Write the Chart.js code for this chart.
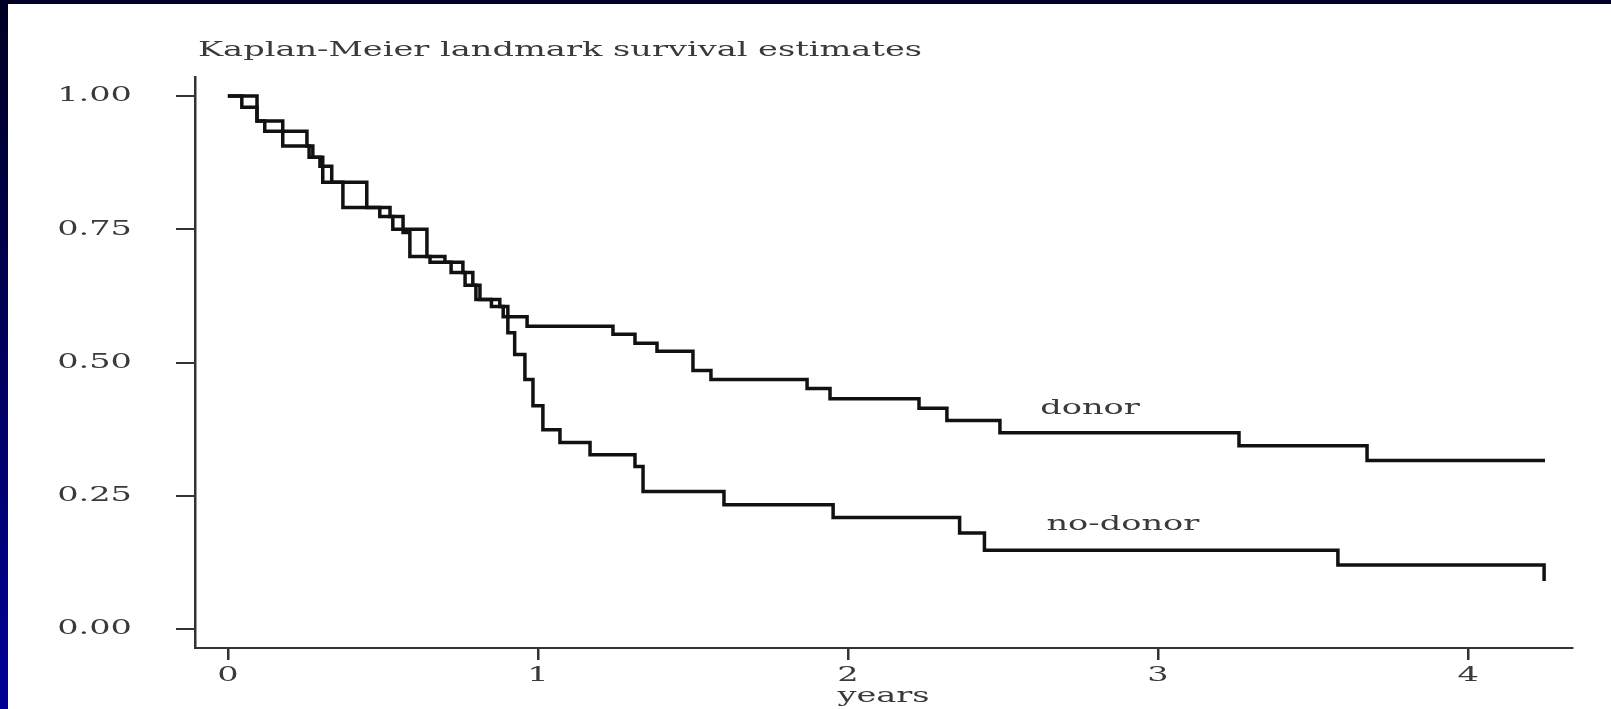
<html>
<head>
  <meta charset="utf-8">
  <script src="https://cdn.jsdelivr.net/npm/chart.js@4.4.1/dist/chart.umd.min.js"></script>
  <style>
    body { margin: 0; width: 1611px; height: 709px; overflow: hidden;
           background: linear-gradient(to bottom, #000022, #000098); }
    #topbar { position: absolute; left: 0; top: 0; width: 1611px; height: 4px; background: #000028; }
    #box { position: absolute; left: 8px; top: 4px; width: 1603px; height: 705px; background: #fff; }
  </style>
</head>
<body>
<div id="topbar"></div>
<div id="box"><canvas id="canvas"></canvas></div>

<script>
// survival steps: time in years, survival after the event
var donorYears = [0, 0.094, 0.177, 0.255, 0.274, 0.306, 0.448, 0.49, 0.532, 0.642, 0.70, 0.758, 0.79, 0.813,
                  0.877, 0.903, 0.965, 1.242, 1.313, 1.384, 1.5, 1.558, 1.868, 1.942, 2.229, 2.319, 2.49,
                  3.261, 3.674, 4.248];
var donorSurv  = [1.0, 0.953, 0.934, 0.906, 0.885, 0.838, 0.791, 0.774, 0.75, 0.699, 0.688, 0.669, 0.645, 0.618,
                  0.605, 0.586, 0.568, 0.553, 0.536, 0.521, 0.485, 0.468, 0.451, 0.432, 0.414, 0.391, 0.368,
                  0.344, 0.316, 0.316];

var noDonorYears = [0, 0.045, 0.094, 0.119, 0.177, 0.262, 0.297, 0.335, 0.371, 0.523, 0.565, 0.587, 0.652, 0.72,
                    0.765, 0.80, 0.85, 0.888, 0.903, 0.925, 0.958, 0.984, 1.016, 1.071, 1.168, 1.313, 1.339,
                    1.6, 1.952, 2.36, 2.44, 3.58, 4.245];
var noDonorSurv  = [1.0, 0.979, 0.953, 0.934, 0.906, 0.885, 0.868, 0.838, 0.791, 0.774, 0.744, 0.699, 0.688, 0.669,
                    0.645, 0.618, 0.605, 0.586, 0.556, 0.515, 0.468, 0.419, 0.374, 0.350, 0.327, 0.305, 0.258,
                    0.233, 0.209, 0.18, 0.148, 0.12, 0.09];

var xTicks = [0, 1, 2, 3, 4];
var yTicks = [0, 0.25, 0.5, 0.75, 1.0];

var chartTitle = 'Kaplan-Meier landmark survival estimates';
var curveLabels = [
  { text: 'donor', t: 2.62, s: 0.413 },
  { text: 'no-donor', t: 2.64, s: 0.196 }
];

function pts(xs, ys) {
  return xs.map(function (x, i) { return { x: x, y: ys[i] }; });
}

var FONT = 'DejaVu Serif';
var FONT_SIZE = 21;
var textGray = '#3a3a3a';
var WIDEN = 1.6;   // horizontal stretch of the lettering

// all text on this chart is drawn wide; stretch glyphs and report the wider size to the layout
var wideText = {
  id: 'wideText',
  beforeInit: function (chart) {
    var ctx = chart.ctx;
    var fill = ctx.fillText.bind(ctx), measure = ctx.measureText.bind(ctx);
    ctx.fillText = function (t, x, y) {
      ctx.save();
      ctx.translate(x, y);
      ctx.scale(WIDEN, 1);
      fill(t, 0, 0);
      ctx.restore();
    };
    ctx.measureText = function (t) {
      var m = measure(t);
      return {
        width: m.width * WIDEN,
        actualBoundingBoxLeft: m.actualBoundingBoxLeft * WIDEN,
        actualBoundingBoxRight: m.actualBoundingBoxRight * WIDEN,
        actualBoundingBoxAscent: m.actualBoundingBoxAscent,
        actualBoundingBoxDescent: m.actualBoundingBoxDescent
      };
    };
  }
};

var annotations = {
  id: 'annotations',
  afterDraw: function (chart) {
    var ctx = chart.ctx, xs = chart.scales.x, ys = chart.scales.y;
    ctx.save();
    ctx.fillStyle = textGray;
    ctx.font = FONT_SIZE + 'px "' + FONT + '"';
    ctx.textBaseline = 'middle';
    ctx.textAlign = 'left';
    ctx.fillText(chartTitle, chart.chartArea.left + 3, 47);
    curveLabels.forEach(function (l) {
      ctx.fillText(l.text, xs.getPixelForValue(l.t), ys.getPixelForValue(l.s));
    });
    ctx.restore();
  }
};

var lineStyle = { borderColor: '#111', borderWidth: 3.5, pointRadius: 0, stepped: 'before', fill: false };

new Chart(document.getElementById('canvas'), {
  type: 'line',
  data: {
    datasets: [
      Object.assign({ label: 'donor', data: pts(donorYears, donorSurv) }, lineStyle),
      Object.assign({ label: 'no-donor', data: pts(noDonorYears, noDonorSurv) }, lineStyle)
    ]
  },
  options: {
    responsive: true,
    maintainAspectRatio: false,
    animation: false,
    layout: { padding: { top: 73, right: 39, left: 0, bottom: 0 } },
    plugins: { legend: { display: false }, tooltip: { enabled: false }, title: { display: false } },
    scales: {
      x: {
        type: 'linear',
        min: -0.106,
        max: 4.335,
        afterBuildTicks: function (s) { s.ticks = xTicks.map(function (v) { return { value: v }; }); },
        afterFit: function (s) { s.height = 61; },
        border: { display: true, color: '#333', width: 2 },
        grid: { drawOnChartArea: false, drawTicks: true, tickLength: 12, color: '#333', lineWidth: 2.5 },
        ticks: { color: textGray, padding: 3, maxRotation: 0, font: { family: FONT, size: FONT_SIZE },
                 callback: function (v) { return String(v); } },
        title: { display: true, text: 'years', color: textGray, padding: { top: 0, bottom: 0 },
                 font: { family: FONT, size: FONT_SIZE } }
      },
      y: {
        type: 'linear',
        min: -0.0356,
        max: 1.0356,
        afterBuildTicks: function (s) { s.ticks = yTicks.map(function (v) { return { value: v }; }); },
        afterFit: function (s) { s.width = 187; },
        border: { display: true, color: '#333', width: 2.5 },
        grid: { drawOnChartArea: false, drawTicks: true, tickLength: 19, color: '#333', lineWidth: 2 },
        ticks: { color: textGray, padding: 44, font: { family: FONT, size: FONT_SIZE },
                 callback: function (v) { return v.toFixed(2); } }
      }
    }
  },
  plugins: [wideText, annotations]
});
</script>
</body>
</html>
